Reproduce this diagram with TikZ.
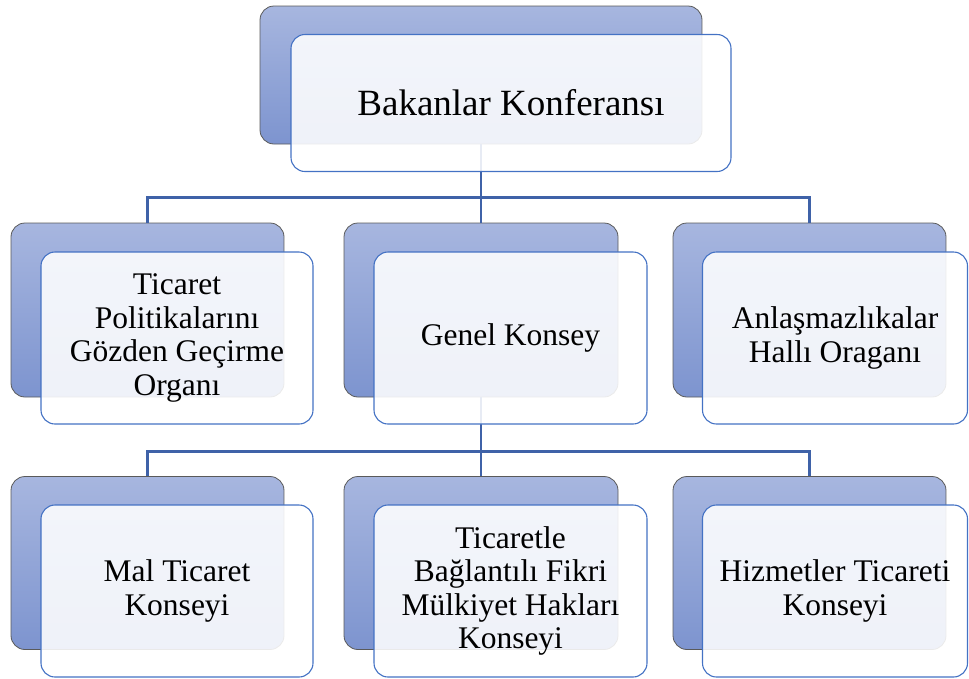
\documentclass[tikz,border=0pt]{standalone}
\usepackage{fontspec}
\setmainfont{Liberation Serif}
\usetikzlibrary{positioning}
\definecolor{backtop}{RGB}{167,182,223}
\definecolor{backbot}{RGB}{125,148,207}
\definecolor{backedge}{RGB}{90,90,90}
\definecolor{frontedge}{RGB}{68,114,196}
\definecolor{linkcol}{RGB}{63,98,168}
\tikzset{
  backbox/.style={rectangle, rounded corners=14pt, draw=backedge, line width=0.8pt,
    top color=backtop, bottom color=backbot, inner sep=0pt},
  frontbox/.style={rectangle, rounded corners=14pt, draw=frontedge, line width=1.1pt,
    fill=white, fill opacity=0.88, text opacity=1, draw opacity=1, inner sep=0pt,
    align=center, font=\fontsize{31.5}{33.5}\selectfont},
  topfont/.style={font=\fontsize{37}{40}\selectfont},
  link/.style={draw=linkcol, line width=2.6pt}
}
\begin{document}
\begin{tikzpicture}[x=1pt,y=-1pt]
\useasboundingbox (0,0) rectangle (969,678);
% back boxes
\node[backbox, minimum width=442pt, minimum height=138pt] (b0) at (481,75) {};
\node[backbox, minimum width=273pt, minimum height=174pt] (b1) at (147.5,310) {};
\node[backbox, minimum width=274pt, minimum height=174pt] (b2) at (481,310) {};
\node[backbox, minimum width=273pt, minimum height=174pt] (b3) at (809.5,310) {};
\node[backbox, minimum width=273pt, minimum height=173pt] (b4) at (147.5,563) {};
\node[backbox, minimum width=274pt, minimum height=173pt] (b5) at (481,563) {};
\node[backbox, minimum width=273pt, minimum height=173pt] (b6) at (809.5,563) {};
% connectors
\draw[link] (b0.south) -- ++(0,53) coordinate (bus1) -| (b1.north);
\draw[link] (bus1) -| (b3.north);
\draw[link] (bus1) -- (b2.north);
\draw[link] (b2.south) -- ++(0,54) coordinate (bus2) -| (b4.north);
\draw[link] (bus2) -| (b6.north);
\draw[link] (bus2) -- (b5.north);
% front boxes
\node[frontbox, topfont, minimum width=440pt, minimum height=137pt] (f0) at (511,103) {Bakanlar Konferansı};
\node[frontbox, minimum width=272pt, minimum height=172pt] (f1) at (177,338) {Ticaret\\Politikalarını\\Gözden Geçirme\\Organı};
\node[frontbox, minimum width=273pt, minimum height=172pt] (f2) at (510.5,338) {Genel Konsey};
\node[frontbox, minimum width=265pt, minimum height=172pt] (f3) at (835,338) {Anlaşmazlıkalar\\Hallı Oraganı};
\node[frontbox, minimum width=272pt, minimum height=172pt] (f4) at (177,591) {Mal Ticaret\\Konseyi};
\node[frontbox, minimum width=273pt, minimum height=172pt] (f5) at (510.5,591) {Ticaretle\\Bağlantılı Fikri\\Mülkiyet Hakları\\Konseyi};
\node[frontbox, minimum width=265pt, minimum height=172pt] (f6) at (835,591) {Hizmetler Ticareti\\Konseyi};
\end{tikzpicture}
\end{document}
